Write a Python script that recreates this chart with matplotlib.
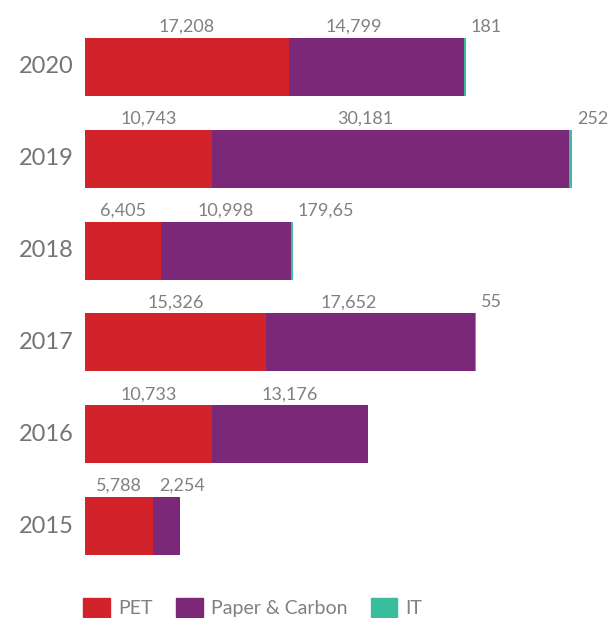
import matplotlib
matplotlib.use("Agg")
import matplotlib.pyplot as plt
from matplotlib.patches import Patch

plt.rcParams['font.family'] = ['Lato', 'DejaVu Sans']

years = ['2020', '2019', '2018', '2017', '2016', '2015']
pet = [17208, 10743, 6405, 15326, 10733, 5788]
paper = [14799, 30181, 10998, 17652, 13176, 2254]
it = [181, 252, 179.65, 55, 0, 0]

pet_labels = ['17,208', '10,743', '6,405', '15,326', '10,733', '5,788']
paper_labels = ['14,799', '30,181', '10,998', '17,652', '13,176', '2,254']
it_labels = ['181', '252', '179,65', '55', '', '']

# sideways nudge (points) for the paper labels so they sit like the printed version
paper_shift = [-16, -18, 0, -16, 0, 11]

c_pet = '#d2232a'
c_paper = '#7b2878'
c_it = '#3abd9f'
grey = '#808080'

fig = plt.figure(figsize=(6.11, 6.18), dpi=100)
ax = fig.add_axes([85 / 611, 1 - 572 / 618, 526 / 611, 551 / 618])

ypos = list(range(len(years)))
h = 0.632
left2 = [a for a in pet]
left3 = [a + b for a, b in zip(pet, paper)]

ax.barh(ypos, pet, height=h, color=c_pet, edgecolor='none')
ax.barh(ypos, paper, left=left2, height=h, color=c_paper, edgecolor='none')
ax.barh(ypos, it, left=left3, height=h, color=c_it, edgecolor='none')

ax.set_xlim(0, 44475)
ax.set_ylim(5.5, -0.5)
ax.axis('off')

for i in ypos:
    top = i - h / 2
    ax.annotate(pet_labels[i], (pet[i] / 2, top), xytext=(0, 4.3),
                textcoords='offset points', ha='center', va='baseline',
                fontsize=13, color=grey)
    ax.annotate(paper_labels[i], (pet[i] + paper[i] / 2, top),
                xytext=(paper_shift[i], 4.3), textcoords='offset points',
                ha='center', va='baseline', fontsize=13, color=grey)
    if it_labels[i]:
        ax.annotate(it_labels[i], (left3[i] + it[i], top), xytext=(3.6, 4.3),
                    textcoords='offset points', ha='left', va='baseline',
                    fontsize=13, color=grey)
    ax.annotate(years[i], (0, i), xytext=(-8, 0), textcoords='offset points',
                ha='right', va='center', fontsize=17, color='#747474')

handles = [Patch(color=c_pet, label='PET'),
           Patch(color=c_paper, label='Paper & Carbon'),
           Patch(color=c_it, label='IT')]
leg = fig.legend(handles=handles, loc='lower left', bbox_to_anchor=(82 / 611, 0.0),
                 ncol=3, frameon=False, fontsize=14, handlelength=1.38,
                 handleheight=1.13, handletextpad=0.42, columnspacing=1.2,
                 borderpad=0.05, borderaxespad=0)
for t in leg.get_texts():
    t.set_color(grey)

fig.savefig('out.png', dpi=100)
